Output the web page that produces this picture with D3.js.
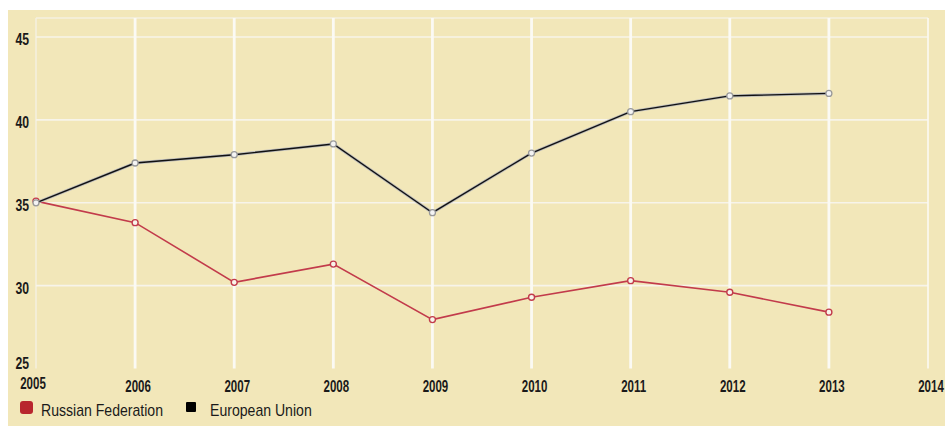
<!DOCTYPE html>
<html>
<head>
<meta charset="utf-8">
<script src="https://cdn.jsdelivr.net/npm/d3@7"></script>
<style>
  body { margin: 0; background: #fff; }
  text { font-family: "Liberation Sans", Arial, sans-serif; }
</style>
</head>
<body>
<div id="chart"></div>
<script>
// years on the x axis
const years = [2005, 2006, 2007, 2008, 2009, 2010, 2011, 2012, 2013];
const xTicks = [2005, 2006, 2007, 2008, 2009, 2010, 2011, 2012, 2013, 2014];
const yTicks = [25, 30, 35, 40, 45];

// series values
const russia = [35.1, 33.8, 30.2, 31.3, 27.95, 29.3, 30.3, 29.6, 28.4];
const eu = [35.0, 37.4, 37.9, 38.55, 34.4, 38.0, 40.5, 41.45, 41.6];

const seriesNames = ["Russian Federation", "European Union"];
const seriesColors = ["#c23b4b", "#111111"];

const width = 945, height = 426;
const narrow = 0.72; // squeeze text to look like a condensed face

const svg = d3.select("#chart").append("svg")
    .attr("width", width)
    .attr("height", height);

// beige panel
svg.append("rect")
    .attr("x", 8).attr("y", 10)
    .attr("width", width - 8).attr("height", height - 10)
    .attr("fill", "#f2e7b9");

const x = d3.scaleLinear().domain([2005, 2014]).range([36, 928]);
const y = d3.scaleLinear().domain([25, 46.15]).range([368.5, 18]);

// frame lines (top, left)
svg.append("line")
    .attr("x1", x(2005)).attr("x2", x(2014))
    .attr("y1", y(46.15)).attr("y2", y(46.15))
    .attr("stroke", "#f5f0e0").attr("stroke-width", 1.5);
svg.append("line")
    .attr("x1", x(2005)).attr("x2", x(2005))
    .attr("y1", y(46.15)).attr("y2", y(25))
    .attr("stroke", "#f5f0e0").attr("stroke-width", 1.5);

// horizontal gridlines
svg.append("g").selectAll("line")
    .data(yTicks.slice(1))
    .enter().append("line")
    .attr("x1", x(2005)).attr("x2", x(2014))
    .attr("y1", d => y(d)).attr("y2", d => y(d))
    .attr("stroke", "#f7f4ea").attr("stroke-width", 1.6);

// vertical gridlines
svg.append("g").selectAll("line")
    .data(xTicks.slice(1))
    .enter().append("line")
    .attr("x1", d => x(d)).attr("x2", d => x(d))
    .attr("y1", y(46.15)).attr("y2", y(25))
    .attr("stroke", "#fbfaf4").attr("stroke-width", d => d === 2014 ? 1.6 : 2.8);

// y labels
svg.append("g").selectAll("text")
    .data(yTicks)
    .enter().append("text")
    .attr("transform", d => `translate(29,${y(d) + (d === 25 ? 0 : 8)}) scale(${narrow},1)`)
    .attr("text-anchor", "end")
    .attr("font-size", 17)
    .attr("font-weight", "bold")
    .attr("fill", "#1a1a1a")
    .text(d => d);

// x labels
svg.append("g").selectAll("text")
    .data(xTicks)
    .enter().append("text")
    .attr("transform", d => `translate(${x(d) + (d === 2005 ? -3 : 3)},${d === 2005 ? 389 : 392}) scale(${narrow},1)`)
    .attr("text-anchor", "middle")
    .attr("font-size", 16)
    .attr("font-weight", "bold")
    .attr("fill", "#1a1a1a")
    .text(d => d);

const line = d3.line()
    .x((d, i) => x(years[i]))
    .y(d => y(d));

svg.append("path")
    .datum(russia)
    .attr("d", line)
    .attr("fill", "none")
    .attr("stroke", seriesColors[0])
    .attr("stroke-width", 1.6);

svg.append("g").selectAll("circle")
    .data(russia)
    .enter().append("circle")
    .attr("cx", (d, i) => x(years[i]))
    .attr("cy", d => y(d))
    .attr("r", 3)
    .attr("fill", "#f8f4ea")
    .attr("stroke", seriesColors[0])
    .attr("stroke-width", 1.4);

// EU line with a faint grey halo
svg.append("path")
    .datum(eu)
    .attr("d", line)
    .attr("fill", "none")
    .attr("stroke", "#bbbbbb")
    .attr("stroke-width", 3);
svg.append("path")
    .datum(eu)
    .attr("d", line)
    .attr("fill", "none")
    .attr("stroke", seriesColors[1])
    .attr("stroke-width", 1.4);

svg.append("g").selectAll("circle")
    .data(eu)
    .enter().append("circle")
    .attr("cx", (d, i) => x(years[i]))
    .attr("cy", d => y(d))
    .attr("r", 3)
    .attr("fill", "#f4f4f4")
    .attr("stroke", "#999999")
    .attr("stroke-width", 1.3);

// legend
const legendX = [20, 185];
const legend = svg.append("g").selectAll("g")
    .data(seriesNames)
    .enter().append("g")
    .attr("transform", (d, i) => `translate(${legendX[i]},0)`);
legend.append("rect")
    .attr("x", (d, i) => i === 0 ? 0 : 1)
    .attr("y", (d, i) => i === 0 ? 401 : 402)
    .attr("width", (d, i) => i === 0 ? 13 : 10)
    .attr("height", (d, i) => i === 0 ? 13 : 10)
    .attr("rx", (d, i) => i === 0 ? 3 : 1)
    .attr("fill", (d, i) => i === 0 ? "#b8262e" : "#000");
legend.append("text")
    .attr("transform", (d, i) => `translate(${i === 0 ? 21 : 25},416) scale(0.88,1)`)
    .attr("font-size", 16)
    .attr("font-weight", 500)
    .attr("fill", "#1a1a1a")
    .text(d => d);
</script>
</body>
</html>
